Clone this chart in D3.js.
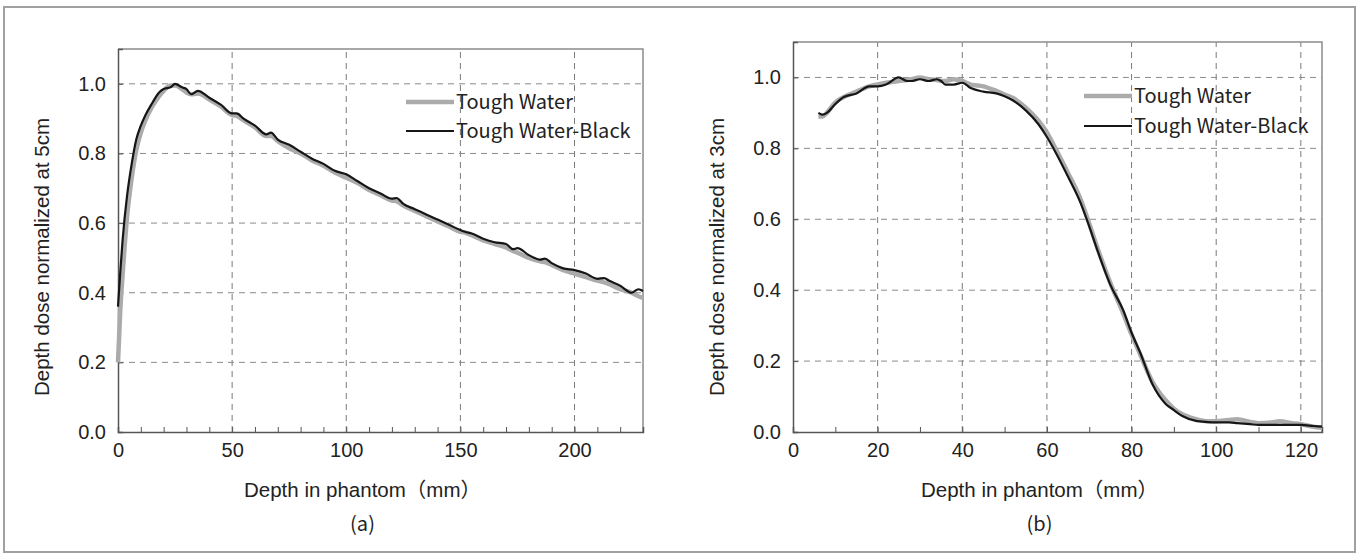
<!DOCTYPE html>
<html>
<head>
<meta charset="utf-8">
<script src="https://cdn.jsdelivr.net/npm/d3@7"></script>
<style>
  body { margin: 0; background: #fff; }
  svg { display: block; }
</style>
</head>
<body>
<svg id="chart" width="1359" height="557"></svg>
<script>
// Panel (a): depth dose normalized at 5cm
const aDepth = [0, 1, 2, 4, 6, 8, 10, 12, 15, 18, 20, 23, 25, 28, 30, 32, 35, 40, 45, 50, 52, 55, 60, 65, 67, 70, 75, 80, 85, 90, 95, 100, 105, 110, 115, 120, 122, 125, 130, 135, 140, 145, 150, 152, 155, 160, 165, 170, 173, 175, 180, 185, 187, 190, 195, 200, 205, 210, 213, 215, 220, 225, 228, 230];
const aToughWater = [0.20, 0.35, 0.45, 0.62, 0.73, 0.81, 0.86, 0.895, 0.935, 0.965, 0.98, 0.995, 0.995, 0.985, 0.975, 0.97, 0.972, 0.955, 0.935, 0.91, 0.908, 0.895, 0.875, 0.85, 0.85, 0.835, 0.815, 0.80, 0.78, 0.765, 0.745, 0.73, 0.715, 0.695, 0.68, 0.665, 0.663, 0.65, 0.635, 0.62, 0.605, 0.59, 0.575, 0.573, 0.565, 0.55, 0.54, 0.53, 0.52, 0.515, 0.50, 0.49, 0.488, 0.48, 0.465, 0.455, 0.445, 0.435, 0.43, 0.425, 0.41, 0.40, 0.39, 0.385];
const aToughWaterBlack = [0.36, 0.46, 0.55, 0.68, 0.77, 0.84, 0.88, 0.91, 0.945, 0.975, 0.985, 0.99, 1.0, 0.99, 0.985, 0.97, 0.98, 0.96, 0.94, 0.915, 0.915, 0.90, 0.88, 0.855, 0.86, 0.84, 0.825, 0.805, 0.785, 0.77, 0.75, 0.74, 0.72, 0.70, 0.685, 0.67, 0.672, 0.655, 0.64, 0.625, 0.61, 0.595, 0.58, 0.575, 0.57, 0.555, 0.545, 0.54, 0.525, 0.528, 0.508, 0.495, 0.498, 0.485, 0.47, 0.465, 0.455, 0.44, 0.442, 0.435, 0.42, 0.40, 0.41, 0.405];
const aXTicks = [0, 50, 100, 150, 200];

// Panel (b): depth dose normalized at 3cm
const bDepth = [6, 7, 8, 10, 12, 15, 18, 20, 22, 25, 27, 28, 30, 32, 34, 35, 36, 38, 40, 42, 45, 48, 50, 52, 55, 58, 60, 62, 65, 68, 70, 72, 75, 78, 80, 82, 85, 88, 90, 92, 95, 98, 100, 103, 105, 108, 110, 113, 115, 118, 120, 123, 125];
const bToughWater = [0.89, 0.89, 0.90, 0.93, 0.945, 0.96, 0.975, 0.98, 0.985, 0.99, 0.993, 0.995, 1.0, 0.995, 0.993, 0.99, 0.99, 0.995, 0.99, 0.98, 0.975, 0.962, 0.952, 0.942, 0.915, 0.878, 0.845, 0.80, 0.73, 0.655, 0.588, 0.517, 0.42, 0.335, 0.275, 0.22, 0.14, 0.09, 0.066, 0.05, 0.037, 0.03, 0.03, 0.034, 0.036, 0.028, 0.025, 0.027, 0.03, 0.025, 0.022, 0.015, 0.012];
const bToughWaterBlack = [0.90, 0.895, 0.90, 0.925, 0.945, 0.955, 0.975, 0.975, 0.98, 1.0, 0.99, 0.99, 0.995, 0.99, 0.995, 0.99, 0.98, 0.98, 0.985, 0.97, 0.96, 0.955, 0.947, 0.935, 0.907, 0.868, 0.832, 0.79, 0.72, 0.645, 0.58, 0.51, 0.415, 0.344, 0.28, 0.225, 0.133, 0.08, 0.062, 0.045, 0.032, 0.028, 0.027, 0.027, 0.025, 0.022, 0.02, 0.02, 0.02, 0.02, 0.02, 0.017, 0.015];
const bXTicks = [0, 20, 40, 60, 80, 100, 120];

const yTicks = [0, 0.2, 0.4, 0.6, 0.8, 1.0];
const seriesNames = ['Tough Water', 'Tough Water-Black'];

const svg = d3.select('#chart');
const tickFont = '"Liberation Sans", Arial, sans-serif';
const gothic = '"Noto Sans CJK JP", sans-serif';

// outer frame of the figure
svg.append('rect')
  .attr('x', 4).attr('y', 7)
  .attr('width', 1351).attr('height', 545)
  .attr('fill', 'none')
  .attr('stroke', '#a0a0a0')
  .attr('stroke-width', 2);

function drawPanel(p) {
  const x = d3.scaleLinear().domain([0, p.xMax]).range([p.left, p.right]);
  const y = d3.scaleLinear().domain([0, 1.1]).range([432, p.top]);
  const g = svg.append('g');

  // dashed grid
  g.append('g').selectAll('line')
    .data(p.xTicks.filter(d => d > 0))
    .enter().append('line')
    .attr('x1', d => x(d)).attr('x2', d => x(d))
    .attr('y1', y(0)).attr('y2', p.top)
    .attr('stroke', '#7a7a7a')
    .attr('stroke-width', 1)
    .attr('stroke-dasharray', '6,5');

  g.append('g').selectAll('line')
    .data(yTicks.filter(d => d > 0))
    .enter().append('line')
    .attr('x1', p.left).attr('x2', p.right)
    .attr('y1', d => y(d)).attr('y2', d => y(d))
    .attr('stroke', '#8a8a8a')
    .attr('stroke-width', 1)
    .attr('stroke-dasharray', '6,5');

  // plot frame: top and right lighter
  g.append('path')
    .attr('d', `M${p.left},${p.top}H${p.right}V${y(0)}`)
    .attr('fill', 'none')
    .attr('stroke', '#8c8c8c')
    .attr('stroke-width', 1.5);

  // x axis with minor ticks every 10 mm, ticks pointing inward
  const xAxis = d3.axisBottom(x)
    .tickValues(d3.range(0, p.xMax + 0.01, 10))
    .tickSize(-5)
    .tickPadding(11)
    .tickFormat(d => p.xTicks.includes(d) ? d : '');
  const gx = g.append('g')
    .attr('transform', `translate(0,${y(0)})`)
    .call(xAxis);
  gx.select('.domain').attr('stroke', '#555').attr('stroke-width', 1.5);
  gx.selectAll('.tick line').attr('stroke', '#555');
  gx.selectAll('text')
    .attr('font-family', tickFont)
    .attr('font-size', 20)
    .attr('fill', '#222');

  const yAxis = d3.axisLeft(y)
    .tickValues(yTicks)
    .tickSize(-5)
    .tickPadding(12)
    .tickFormat(d3.format('.1f'));
  const gy = g.append('g')
    .attr('transform', `translate(${p.left},0)`)
    .call(yAxis);
  gy.select('.domain').attr('stroke', '#555').attr('stroke-width', 1.5);
  gy.selectAll('.tick line').attr('stroke', '#555');
  gy.selectAll('text')
    .attr('font-family', tickFont)
    .attr('font-size', 20)
    .attr('fill', '#222');

  // curves
  const line = d3.line()
    .x(d => x(d[0]))
    .y(d => y(d[1]))
    .curve(d3.curveMonotoneX);

  g.append('path')
    .datum(d3.zip(p.depth, p.water))
    .attr('d', line)
    .attr('fill', 'none')
    .attr('stroke', '#ababab')
    .attr('stroke-width', 4.5)
    .attr('stroke-linejoin', 'round');

  g.append('path')
    .datum(d3.zip(p.depth, p.black))
    .attr('d', line)
    .attr('fill', 'none')
    .attr('stroke', '#161616')
    .attr('stroke-width', 2.2)
    .attr('stroke-linejoin', 'round');

  // legend
  const leg = g.append('g');
  const styles = [
    { stroke: '#ababab', width: 4.5 },
    { stroke: '#161616', width: 2.2 }
  ];
  seriesNames.forEach((name, i) => {
    const ly = p.legendY[i];
    leg.append('line')
      .attr('x1', p.legendX).attr('x2', p.legendX + 48)
      .attr('y1', ly).attr('y2', ly)
      .attr('stroke', styles[i].stroke)
      .attr('stroke-width', styles[i].width);
    leg.append('text')
      .attr('x', p.legendX + 50)
      .attr('y', ly)
      .attr('dy', '0.35em')
      .attr('font-family', gothic)
      .attr('font-size', 20)
      .attr('fill', '#222')
      .text(name);
  });

  // axis titles
  const cx = (p.left + p.right) / 2;
  g.append('text')
    .attr('x', cx - 18).attr('y', 490)
    .attr('dy', '0.35em')
    .attr('text-anchor', 'middle')
    .attr('font-family', tickFont + ', ' + gothic)
    .attr('font-size', 20.5)
    .attr('fill', '#222')
    .text('Depth in phantom（mm）');

  g.append('text')
    .attr('transform', `translate(${p.left - 76},257) rotate(-90)`)
    .attr('dy', '0.35em')
    .attr('text-anchor', 'middle')
    .attr('font-family', tickFont)
    .attr('font-size', 20.5)
    .attr('fill', '#222')
    .text(p.yTitle);

  g.append('text')
    .attr('x', cx - 18).attr('y', 524)
    .attr('dy', '0.35em')
    .attr('text-anchor', 'middle')
    .attr('font-family', gothic)
    .attr('font-size', 20)
    .attr('fill', '#222')
    .text(p.caption);
}

drawPanel({
  left: 118, right: 643, top: 49, xMax: 230,
  xTicks: aXTicks,
  depth: aDepth, water: aToughWater, black: aToughWaterBlack,
  legendX: 406, legendY: [102, 131],
  yTitle: 'Depth dose normalized at 5cm',
  caption: '(a)'
});

drawPanel({
  left: 793, right: 1322, top: 42, xMax: 125,
  xTicks: bXTicks,
  depth: bDepth, water: bToughWater, black: bToughWaterBlack,
  legendX: 1084, legendY: [96, 126],
  yTitle: 'Depth dose normalized at 3cm',
  caption: '(b)'
});
</script>
</body>
</html>
